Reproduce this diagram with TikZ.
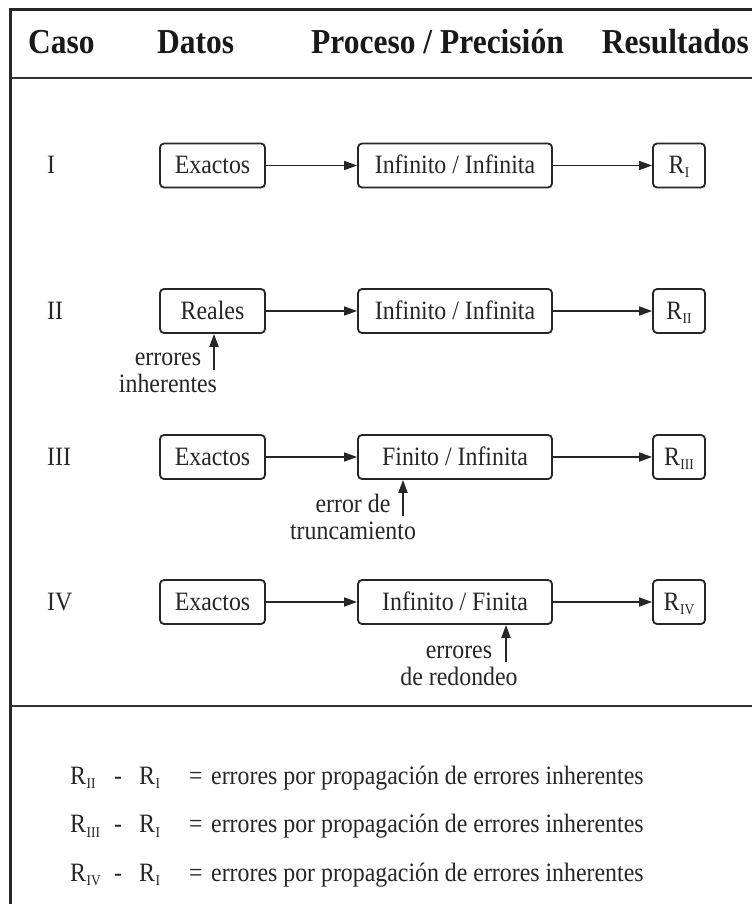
\documentclass[tikz,border=0pt]{standalone}
\usepackage{fontspec}
\setmainfont{Liberation Serif}[FakeStretch=0.9]
\usepackage{tikz}
\usetikzlibrary{arrows.meta}
\newcommand{\Rn}[1]{R\kern0.5pt\raisebox{-4.5pt}{\fontsize{15}{15}\selectfont #1}}
\tikzstyle{head} = [anchor=base west, inner sep=0pt, text=black!90, font=\fontsize{35}{37}\selectfont\bfseries]
\tikzstyle{caso} = [anchor=base west, inner sep=0pt, text=black!85, font=\fontsize{26.5}{27}\selectfont]
\tikzstyle{stage} = [rectangle, rounded corners=4pt, minimum height=44pt, text height=16pt, text depth=0pt, inner sep=0pt, text centered, draw=black!85, line width=1.8pt, text=black!85, font=\fontsize{26.5}{27}\selectfont]
\tikzstyle{note} = [align=center, anchor=base, inner sep=0pt, text=black!85, font=\fontsize{26.5}{27}\selectfont]
\tikzstyle{formula} = [anchor=base west, inner sep=0pt, text=black!85, font=\fontsize{26.5}{27}\selectfont]
\tikzstyle{arrow} = [line width=1.6pt, draw=black!85, -{Triangle[length=13pt,width=9pt]}]
\tikzstyle{errarrow} = [line width=2pt, draw=black!85, -{Triangle[length=13pt,width=9pt]}]

\begin{document}
\begin{tikzpicture}[x=1pt, y=-1pt]
\useasboundingbox (0,0) rectangle (752,904);
\fill [white] (0,0) rectangle (752,904);

\draw [line width=3pt, black!85] (10,904) -- (10,10) -- (752,10);
\draw [line width=2pt, black!80] (10,78) -- (752,78);
\draw [line width=2pt, black!80] (10,706) -- (752,706);

\node (hcaso) [head] at (28,54) {Caso};
\node (hdatos) [head] at (157,54) {Datos};
\node (hproc) [head] at (311,54) {Proceso / Precisión};
\node (hres) [head, anchor=base east] at (749,54) {Resultados};

\node (c1) [caso] at (47,173.5) {I};
\node (d1) [stage, minimum width=105pt] at (212.5,165.5) {Exactos};
\node (p1) [stage, minimum width=194pt] at (455,165.5) {Infinito / Infinita};
\node (r1) [stage, minimum width=52pt] at (679,165.5) {\Rn{I}};
\draw [arrow] (d1) -- (p1);
\draw [arrow] (p1) -- (r1);

\node (c2) [caso] at (47,319) {II};
\node (d2) [stage, minimum width=105pt] at (212.5,311) {Reales};
\node (p2) [stage, minimum width=194pt] at (455,311) {Infinito / Infinita};
\node (r2) [stage, minimum width=52pt] at (679,311) {\Rn{II}};
\draw [arrow] (d2) -- (p2);
\draw [arrow] (p2) -- (r2);
\coordinate (e2) at (214,370);
\draw [errarrow] (e2) -- (d2.south -| e2);
\node (n2) [note] at (168,392) {errores\\inherentes};

\node (c3) [caso] at (47,465) {III};
\node (d3) [stage, minimum width=105pt] at (212.5,457) {Exactos};
\node (p3) [stage, minimum width=194pt] at (455,457) {Finito / Infinita};
\node (r3) [stage, minimum width=52pt] at (679,457) {\Rn{III}};
\draw [arrow] (d3) -- (p3);
\draw [arrow] (p3) -- (r3);
\coordinate (e3) at (403,516);
\draw [errarrow] (e3) -- (p3.south -| e3);
\node (n3) [note] at (353,539) {error de\\truncamiento};

\node (c4) [caso] at (47,610) {IV};
\node (d4) [stage, minimum width=105pt] at (212.5,602) {Exactos};
\node (p4) [stage, minimum width=194pt] at (455,602) {Infinito / Finita};
\node (r4) [stage, minimum width=52pt] at (679,602) {\Rn{IV}};
\draw [arrow] (d4) -- (p4);
\draw [arrow] (p4) -- (r4);
\coordinate (e4) at (506,662);
\draw [errarrow] (e4) -- (p4.south -| e4);
\node (n4) [note] at (459,685) {errores\\de redondeo};

\node (f2) [formula] at (70,784) {\makebox[44pt][l]{\Rn{II}}\makebox[25pt][l]{-}\makebox[50pt][l]{\Rn{I}}\makebox[22pt][l]{=}errores por propagación de errores inherentes};
\node (f3) [formula] at (70,832.5) {\makebox[44pt][l]{\Rn{III}}\makebox[25pt][l]{-}\makebox[50pt][l]{\Rn{I}}\makebox[22pt][l]{=}errores por propagación de errores inherentes};
\node (f4) [formula] at (70,881) {\makebox[44pt][l]{\Rn{IV}}\makebox[25pt][l]{-}\makebox[50pt][l]{\Rn{I}}\makebox[22pt][l]{=}errores por propagación de errores inherentes};

\end{tikzpicture}
\end{document}
